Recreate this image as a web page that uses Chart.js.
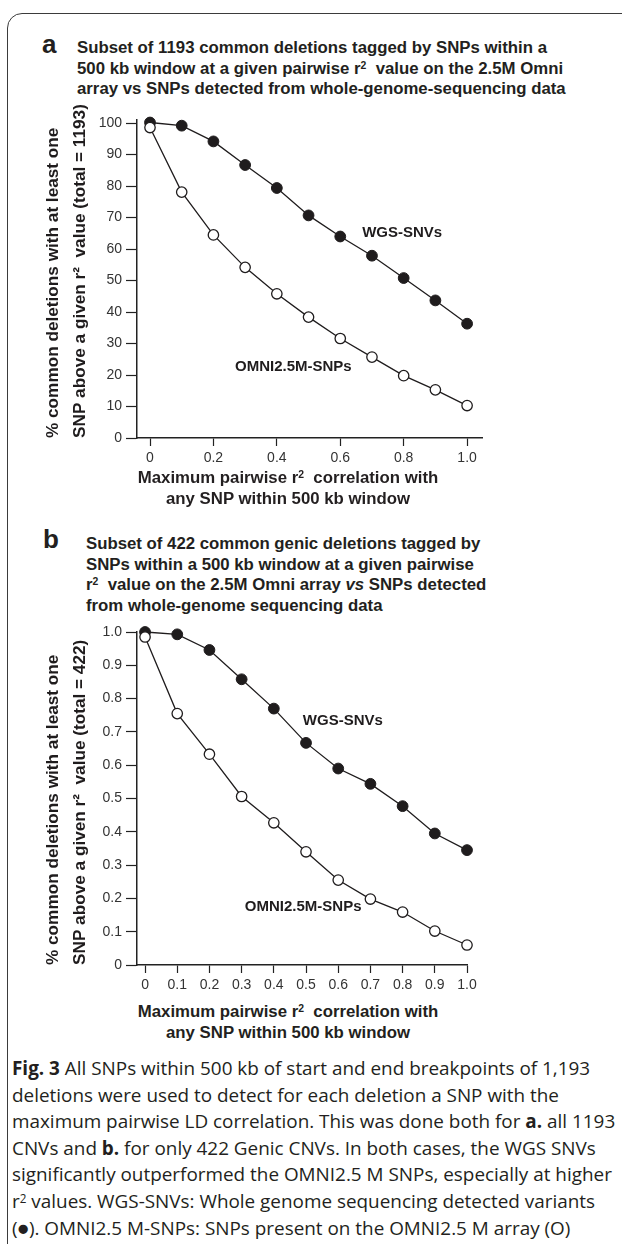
<!DOCTYPE html>
<html lang="en">
<head>
<meta charset="utf-8">
<title>Fig. 3</title>
<script src="https://cdn.jsdelivr.net/npm/chart.js@4.4.1/dist/chart.umd.min.js"></script>
<style>
  html, body { margin: 0; padding: 0; background: #fff; }
  body { width: 622px; height: 1244px; position: relative; overflow: hidden;
         font-family: "Liberation Sans", Arial, sans-serif; color: #231f20; }
  .moldura { position: absolute; left: 7px; top: 13px; width: 700px; height: 1300px;
             border: 1.6px solid #3b3b3b; border-top-left-radius: 15px; }
  .letra { position: absolute; font-weight: bold; font-size: 26px; line-height: 26px; }
  .titulo { position: absolute; font-weight: bold; font-size: 16.8px; line-height: 20.5px; white-space: nowrap; }
  .eixo { position: absolute; left: 78px; width: 420px; text-align: center; font-weight: bold;
          font-size: 16.8px; line-height: 20.5px; white-space: nowrap; }
  sup { font-size: 0.62em; position: relative; top: -0.45em; vertical-align: baseline; line-height: 0; }
  canvas { position: absolute; left: 0; }
  .legenda { position: absolute; left: 12px; top: 1055px; font-family: "Open Sans", Lato, sans-serif;
             font-size: 18.9px; line-height: 26.6px; white-space: nowrap; color: #231f20; }
</style>
</head>
<body>
<div class="moldura"></div>

<div class="letra" style="left:42px; top:31px;">a</div>
<div class="titulo" style="left:77px; top:38px;">
  Subset of 1193 common deletions tagged by SNPs within a<br>
  500 kb window at a given pairwise r<sup>2</sup>&nbsp; value on the 2.5M Omni<br>
  array vs SNPs detected from whole-genome-sequencing data
</div>
<canvas id="graficoA" width="500" height="380" style="top:90px;"></canvas>
<div class="eixo" style="top:468px;">
  Maximum pairwise r<sup>2</sup>&nbsp; correlation with<br>any SNP within 500 kb window
</div>

<div class="letra" style="left:43px; top:526px;">b</div>
<div class="titulo" style="left:86px; top:534px;">
  Subset of 422 common genic deletions tagged by<br>
  SNPs within a 500 kb window at a given pairwise<br>
  r<sup>2</sup>&nbsp; value on the 2.5M Omni array <i>vs</i> SNPs detected<br>
  from whole-genome sequencing data
</div>
<canvas id="graficoB" width="490" height="400" style="top:600px;"></canvas>
<div class="eixo" style="top:1002px;">
  Maximum pairwise r<sup>2</sup>&nbsp; correlation with<br>any SNP within 500 kb window
</div>

<div class="legenda"><b>Fig. 3</b> All SNPs within 500 kb of start and end breakpoints of 1,193<br>
deletions were used to detect for each deletion a SNP with the<br>
maximum pairwise LD correlation. This was done both for <b>a.</b> all 1193<br>
CNVs and <b>b.</b> for only 422 Genic CNVs. In both cases, the WGS SNVs<br>
significantly outperformed the OMNI2.5 M SNPs, especially at higher<br>
r<sup>2</sup> values. WGS-SNVs: Whole genome sequencing detected variants<br>
(●). OMNI2.5 M-SNPs: SNPs present on the OMNI2.5 M array (O)</div>

<script>
// Valores de r² no eixo x (iguais nos dois painéis)
const valoresR2 = [0, 0.1, 0.2, 0.3, 0.4, 0.5, 0.6, 0.7, 0.8, 0.9, 1.0];

// Painel a: % das 1193 deleções
const wgsA = [100.2, 99.2, 94.2, 86.7, 79.4, 70.7, 64.0, 57.9, 50.8, 43.7, 36.3];
const omniA = [98.6, 78.1, 64.5, 54.2, 45.8, 38.4, 31.6, 25.7, 19.8, 15.3, 10.3];

// Painel b: fração das 422 deleções gênicas
const wgsB = [1.0, 0.993, 0.946, 0.858, 0.770, 0.667, 0.590, 0.544, 0.477, 0.395, 0.345];
const omniB = [0.985, 0.755, 0.633, 0.506, 0.427, 0.340, 0.255, 0.198, 0.159, 0.102, 0.060];

// Marcas dos eixos
const ticksXA = [0, 0.2, 0.4, 0.6, 0.8, 1.0];
const rotulosXA = ['0', '0.2', '0.4', '0.6', '0.8', '1.0'];
const ticksYA = [0, 10, 20, 30, 40, 50, 60, 70, 80, 90, 100];
const rotulosYA = ['0', '10', '20', '30', '40', '50', '60', '70', '80', '90', '100'];
const ticksXB = [0, 0.1, 0.2, 0.3, 0.4, 0.5, 0.6, 0.7, 0.8, 0.9, 1.0];
const rotulosXB = ['0', '0.1', '0.2', '0.3', '0.4', '0.5', '0.6', '0.7', '0.8', '0.9', '1.0'];
const ticksYB = [0, 0.1, 0.2, 0.3, 0.4, 0.5, 0.6, 0.7, 0.8, 0.9, 1.0];
const rotulosYB = ['0', '0.1', '0.2', '0.3', '0.4', '0.5', '0.6', '0.7', '0.8', '0.9', '1.0'];

// Nomes das séries escritos dentro do gráfico
const nomesSeries = ['WGS-SNVs', 'OMNI2.5M-SNPs'];

const fonte = '"Liberation Sans", Arial, sans-serif';
const corTinta = '#1f1c1d';

// Plugin que escreve o nome de cada série numa posição em coordenadas dos dados
const pluginRotulos = {
    id: 'rotulosSeries',
    afterDatasetsDraw(chart, args, opts) {
        const ctx = chart.ctx;
        const x = chart.scales.x;
        const y = chart.scales.y;
        ctx.save();
        ctx.font = 'bold 15px ' + fonte;
        ctx.fillStyle = corTinta;
        ctx.textBaseline = 'middle';
        ctx.textAlign = 'left';
        opts.textos.forEach(function (t, i) {
            ctx.fillText(t, x.getPixelForValue(opts.x[i]), y.getPixelForValue(opts.y[i]));
        });
        ctx.restore();
    }
};

function eixo(p) {
    return {
        type: 'linear',
        bounds: 'data',
        min: p.min,
        max: p.max,
        afterFit: p.ajuste,
        afterBuildTicks: function (s) { s.ticks = p.ticks.map(function (v) { return { value: v }; }); },
        ticks: {
            callback: function (v, i) { return p.rotulos[i]; },
            font: { family: fonte, size: 14 },
            color: '#333',
            padding: p.pad,
            autoSkip: false,
            maxRotation: 0
        },
        grid: { drawOnChartArea: false, drawTicks: true, tickLength: p.tick, tickColor: '#222', tickWidth: 1.2 },
        border: { display: true, color: '#222', width: 1.5 },
        title: p.titulo || { display: false }
    };
}

// Cria um painel; p traz os dados e o desenho do painel
function criarPainel(idCanvas, p) {
    const ctx = document.getElementById(idCanvas).getContext('2d');
    return new Chart(ctx, {
        type: 'line',
        data: {
            datasets: [
                {
                    label: nomesSeries[1],
                    data: valoresR2.map(function (v, i) { return { x: v, y: p.omni[i] }; }),
                    borderColor: corTinta, borderWidth: 1.3,
                    pointRadius: 5.2, pointBackgroundColor: '#fff',
                    pointBorderColor: corTinta, pointBorderWidth: 1.3,
                    tension: 0, clip: false, order: 0
                },
                {
                    label: nomesSeries[0],
                    data: valoresR2.map(function (v, i) { return { x: v, y: p.wgs[i] }; }),
                    borderColor: corTinta, borderWidth: 1.3,
                    pointRadius: 5.4, pointBackgroundColor: corTinta,
                    pointBorderColor: corTinta, pointBorderWidth: 1,
                    tension: 0, clip: false, order: 1
                }
            ]
        },
        options: {
            responsive: false,
            animation: false,
            devicePixelRatio: 1,
            layout: { padding: { left: 0, top: p.topo, right: p.direita, bottom: 0 } },
            plugins: {
                legend: { display: false },
                tooltip: { enabled: false },
                rotulosSeries: p.rotulos
            },
            scales: {
                x: eixo({
                    min: p.xMin, max: p.xMax, ticks: p.ticksX, rotulos: p.rotulosX, pad: 4, tick: 8,
                    ajuste: function (s) { s.height = p.alturaX; }
                }),
                y: eixo({
                    min: p.yMin, max: p.yMax, ticks: p.ticksY, rotulos: p.rotulosY, pad: 4, tick: 11,
                    ajuste: function (s) { s.width = 137; },
                    titulo: {
                        display: true,
                        text: p.tituloY,
                        align: 'start',
                        color: corTinta,
                        font: { family: fonte, size: 17.2, weight: 'bold', lineHeight: 1.57 },
                        padding: { top: 39.5, bottom: 0 }
                    }
                })
            }
        },
        plugins: [pluginRotulos]
    });
}

criarPainel('graficoA', {
    wgs: wgsA, omni: omniA,
    xMin: -0.041, xMax: 1.047, yMin: 0, yMax: 101,
    ticksX: ticksXA, rotulosX: rotulosXA, ticksY: ticksYA, rotulosY: rotulosYA,
    topo: 30, direita: 18, alturaX: 32,
    tituloY: ['% common deletions with at least one', 'SNP above a given r\u00b2  value (total = 1193)'],
    rotulos: { textos: nomesSeries, x: [0.669, 0.268], y: [65.2, 22.6] }
});

criarPainel('graficoB', {
    wgs: wgsB, omni: omniB,
    xMin: -0.025, xMax: 1.0, yMin: 0, yMax: 1.0,
    ticksX: ticksXB, rotulosX: rotulosXB, ticksY: ticksYB, rotulosY: rotulosYB,
    topo: 32, direita: 23, alturaX: 35,
    tituloY: ['% common deletions with at least one', 'SNP above a given r\u00b2  value (total = 422)'],
    rotulos: { textos: nomesSeries, x: [0.49, 0.31], y: [0.734, 0.176] }
});
</script>
</body>
</html>
